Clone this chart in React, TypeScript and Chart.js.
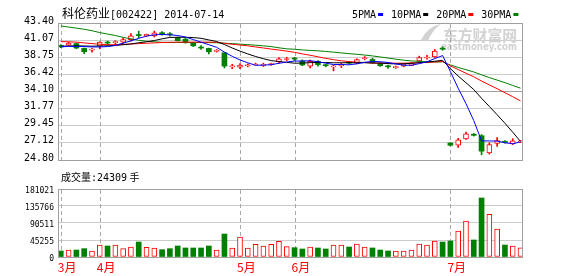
import React, { useEffect, useRef } from 'react';
import { Chart, registerables } from 'chart.js';

Chart.register(...registerables);

// ---- data (price in 元, volume in 手) ----
const openP = [40.35, 40.4, 40.6, 39.95, 39.7, 40.25, 40.72, 40.74, 40.8, 41.15, 41.75, 41.65, 41.65, 42.0, 41.85, 41.4, 41.2, 40.7, 40.1, 39.95, 39.55, 39.35, 37.45, 37.4, 37.6, 37.7, 37.65, 37.75, 38.1, 38.45, 38.55, 38.25, 37.55, 38.2, 37.65, 37.45, 37.6, 38.0, 37.95, 38.55, 38.45, 37.9, 37.5, 37.35, 37.55, 37.65, 38.25, 38.65, 38.8, 39.95, 27.1, 26.8, 27.65, 28.3, 28.1, 25.75, 27.05, 27.3, 27.0, 27.25];
const highP = [40.45, 40.8, 40.7, 40.0, 39.95, 40.85, 40.95, 41.0, 41.35, 41.95, 42.3, 41.9, 42.3, 42.25, 42.1, 41.5, 41.4, 40.8, 40.35, 40.0, 39.8, 39.4, 37.8, 37.9, 37.85, 37.95, 37.95, 37.95, 38.7, 38.75, 38.75, 38.4, 38.35, 38.3, 37.8, 37.7, 37.95, 38.15, 38.55, 38.85, 38.6, 38.0, 37.65, 37.55, 37.85, 38.05, 38.9, 39.0, 39.8, 40.15, 27.15, 27.75, 28.6, 28.4, 28.25, 27.15, 27.85, 27.45, 27.7, 27.45];
const lowP = [40.05, 40.3, 39.9, 39.25, 39.45, 39.9, 40.4, 40.45, 40.6, 40.95, 41.4, 41.55, 41.5, 41.75, 41.6, 40.95, 40.65, 40.2, 39.8, 39.2, 39.45, 37.3, 37.2, 37.2, 37.45, 37.65, 37.5, 37.65, 37.95, 38.3, 38.3, 37.6, 37.3, 37.55, 37.45, 36.9, 37.35, 37.8, 37.85, 38.4, 37.95, 37.5, 37.25, 37.25, 37.45, 37.6, 38.1, 38.5, 38.7, 39.7, 26.7, 26.5, 27.6, 28.05, 25.5, 25.6, 26.65, 27.1, 26.9, 27.15];
const closeP = [40.15, 40.65, 40.0, 39.5, 39.85, 40.8, 40.68, 40.8, 41.15, 41.65, 41.7, 41.85, 42.05, 41.95, 41.8, 41.0, 40.75, 40.3, 40.0, 39.5, 39.7, 37.55, 37.55, 37.7, 37.7, 37.8, 37.75, 37.85, 38.55, 38.55, 38.5, 37.7, 38.2, 37.75, 37.6, 37.55, 37.75, 37.95, 38.45, 38.65, 38.05, 37.6, 37.45, 37.45, 37.8, 38.0, 38.7, 38.75, 39.6, 39.85, 26.8, 27.55, 28.35, 28.15, 26.0, 26.9, 27.45, 27.2, 27.4, 27.35];

const ma5 = [40.17, 40.22, 40.22, 40.2, 40.15, 40.15, 40.2, 40.35, 40.67, 40.97, 41.32, 41.62, 41.8, 41.84, 41.8, 41.7, 41.5, 41.15, 40.8, 40.45, 40.1, 39.45, 38.88, 38.38, 38.0, 37.66, 37.68, 37.74, 37.93, 38.1, 38.24, 38.23, 38.28, 38.14, 37.95, 37.76, 37.77, 37.72, 37.86, 38.07, 38.17, 38.14, 38.04, 37.84, 37.67, 37.66, 37.88, 38.14, 38.57, 38.98, 36.8, 34.55, 32.45, 30.15, 27.4, 27.39, 27.37, 27.14, 27.0, 27.26];
const ma10 = [40.25, 40.28, 40.3, 40.28, 40.25, 40.28, 40.3, 40.35, 40.45, 40.55, 40.72, 40.85, 41.02, 41.25, 41.44, 41.46, 41.46, 41.42, 41.32, 41.1, 40.89, 40.48, 40.01, 39.58, 39.2, 38.85, 38.55, 38.3, 38.16, 38.06, 37.94, 37.96, 38.02, 38.04, 38.03, 38.0, 38.0, 38.01, 38.0, 38.01, 37.97, 37.96, 37.88, 37.85, 37.87, 37.92, 38.01, 38.09, 38.21, 38.33, 37.2, 36.2, 35.29, 34.36, 33.18, 32.07, 30.94, 29.79, 28.57, 27.32];
const ma20 = [40.88, 40.85, 40.8, 40.7, 40.6, 40.52, 40.45, 40.45, 40.5, 40.55, 40.6, 40.65, 40.7, 40.75, 40.78, 40.8, 40.8, 40.8, 40.8, 40.8, 40.78, 40.63, 40.51, 40.41, 40.3, 40.15, 40.01, 39.86, 39.73, 39.58, 39.42, 39.21, 39.02, 38.81, 38.6, 38.42, 38.27, 38.16, 38.08, 38.04, 37.95, 37.96, 37.95, 37.94, 37.95, 37.96, 38.01, 38.05, 38.1, 38.17, 37.58, 37.08, 36.58, 36.1, 35.52, 34.99, 34.48, 33.94, 33.39, 32.82];
const ma30 = [43.0, 42.85, 42.7, 42.55, 42.35, 42.1, 41.9, 41.7, 41.45, 41.25, 41.05, 40.92, 40.85, 40.78, 40.75, 40.75, 40.75, 40.75, 40.75, 40.74, 40.72, 40.66, 40.6, 40.53, 40.47, 40.38, 40.3, 40.2, 40.03, 39.89, 39.84, 39.74, 39.68, 39.62, 39.54, 39.44, 39.34, 39.24, 39.15, 39.05, 38.93, 38.79, 38.64, 38.49, 38.35, 38.25, 38.19, 38.13, 38.12, 38.13, 37.7, 37.37, 37.06, 36.75, 36.36, 35.99, 35.65, 35.3, 34.92, 34.55];

const volume = [16000, 18600, 18600, 22200, 16000, 31900, 29300, 31900, 22200, 26600, 39900, 25700, 24000, 19500, 22200, 29300, 24000, 24000, 24000, 29300, 18600, 61200, 24000, 53200, 24000, 33700, 29300, 33700, 41700, 27500, 24800, 21300, 26600, 24000, 21300, 31900, 31900, 26600, 34600, 26600, 24000, 18600, 16000, 16000, 16000, 18600, 34600, 31900, 42600, 39900, 42600, 69200, 95800, 45300, 157100, 113600, 74500, 31900, 29300, 24309];

const monthTickIndex = [0, 5, 23, 30, 50];
const monthTickLabels = ['3月', '4月', '5月', '6月', '7月'];
const priceTickValues = [24.8, 27.125, 29.45, 31.775, 34.1, 36.425, 38.75, 41.075, 43.4];
const priceTickLabels = ['24.80', '27.12', '29.45', '31.77', '34.10', '36.42', '38.75', '41.07', '43.40'];
const volumeTickValues = [0, 45255, 90511, 135766, 181021];
const volumeTickLabels = ['0', '45255', '90511', '135766', '181021'];

const stockName = '科伦药业';
const stockCodeDate = '[002422] 2014-07-14';
const legendLabels = ['5PMA', '10PMA', '20PMA', '30PMA'];
const volumeCaption = '成交量';
const lastVolumeText = ':24309';
const volumeUnit = '手';
const watermarkCn = '东方财富网';
const watermarkEn = 'eastmoney.com';

// ---- styles ----
const RED = '#ff0000';
const GREEN = '#008000';
const MA_COLORS = ['#0000ff', '#000000', '#ff0000', '#008000'];
const FRAME = '#a0a0a0';
const GRID = '#cccccc';
const VGRID = '#a8a8a8';
const MONO = "'DejaVu Sans Mono'";
const CJK = "'Noto Sans CJK SC'";

const isUp = closeP.map((c, i) => c >= openP[i]);

const X_MIN = -0.36;
const X_MAX = 59.19;

function xScale(showLabels: boolean): any {
  return {
    type: 'linear',
    min: X_MIN,
    max: X_MAX,
    bounds: 'data',
    offset: false,
    afterBuildTicks: (s: any) => {
      s.ticks = monthTickIndex.map((v) => ({ value: v }));
    },
    afterFit: (s: any) => {
      s.height = showLabels ? 19 : 4;
    },
    ticks: {
      display: showLabels,
      autoSkip: false,
      maxRotation: 0,
      minRotation: 0,
      align: 'start',
      labelOffset: -3,
      padding: 3,
      color: RED,
      font: { family: CJK, size: 12 },
      callback: (v: number) => {
        const k = monthTickIndex.indexOf(v);
        return k >= 0 ? monthTickLabels[k] : '';
      },
    },
    grid: { display: false, drawTicks: false, offset: false },
    border: { display: false },
  };
}

// month separators (dashed) + chart-area frame, placed through the chart's x scale
function framePlugin(id: string): any {
  return {
    id,
    beforeDatasetsDraw(chart: any) {
      const { ctx, chartArea } = chart;
      const xs = chart.scales.x;
      ctx.save();
      ctx.strokeStyle = VGRID;
      ctx.lineWidth = 1;
      ctx.setLineDash([4, 3]);
      for (const v of monthTickIndex) {
        const px = Math.round(xs.getPixelForValue(v)) + 0.5;
        ctx.beginPath();
        ctx.moveTo(px, chartArea.top + 1);
        ctx.lineTo(px, chartArea.bottom);
        ctx.stroke();
      }
      ctx.restore();
    },
    afterDraw(chart: any) {
      const { ctx, chartArea } = chart;
      const { left, top, right, bottom } = chartArea;
      ctx.save();
      ctx.strokeStyle = FRAME;
      ctx.lineWidth = 1;
      ctx.setLineDash([]);
      ctx.strokeRect(Math.round(left) + 0.5, Math.round(top) + 0.5, Math.round(right - left), Math.round(bottom - top));
      ctx.restore();
    },
  };
}

function fitText(ctx: CanvasRenderingContext2D, text: string, x: number, y: number, width: number) {
  const w = ctx.measureText(text).width || 1;
  ctx.save();
  ctx.translate(x, y);
  ctx.scale(width / w, 1);
  ctx.fillText(text, 0, 0);
  ctx.restore();
}

const priceTextPlugin = {
  id: 'priceText',
  beforeDatasetsDraw(chart: any) {
    const { ctx } = chart;
    ctx.save();
    ctx.fillStyle = '#d2d2d2';
    ctx.textBaseline = 'alphabetic';
    ctx.font = `bold 15px ${CJK}`;
    fitText(ctx, watermarkCn, 443, 41, 74);
    ctx.font = "bold 10px 'DejaVu Sans'";
    fitText(ctx, watermarkEn, 441, 49.5, 76);
    ctx.beginPath();
    ctx.moveTo(421, 40);
    ctx.quadraticCurveTo(428, 26, 441, 24);
    ctx.quadraticCurveTo(432, 30, 428, 41);
    ctx.closePath();
    ctx.fill();
    ctx.restore();
  },
  afterDraw(chart: any) {
    const { ctx } = chart;
    ctx.save();
    ctx.textBaseline = 'alphabetic';
    ctx.textAlign = 'left';
    ctx.fillStyle = '#000';
    ctx.font = `12px ${CJK}`;
    ctx.fillText(stockName, 62, 18);
    const w = ctx.measureText(stockName).width;
    ctx.font = `10px ${MONO}`;
    ctx.fillText(stockCodeDate, 62 + w, 18);
    let x = 352;
    legendLabels.forEach((lab, k) => {
      ctx.fillStyle = '#000';
      ctx.fillText(lab, x, 18);
      x += ctx.measureText(lab).width + 2;
      ctx.fillStyle = MA_COLORS[k];
      ctx.fillRect(x, 13, 5, 3);
      x += 5 + 8;
    });
    ctx.restore();
  },
};

const volumeTextPlugin = {
  id: 'volumeText',
  afterDraw(chart: any) {
    const { ctx } = chart;
    ctx.save();
    ctx.textBaseline = 'alphabetic';
    ctx.fillStyle = '#000';
    ctx.font = `10px ${CJK}`;
    ctx.fillText(volumeCaption, 61, 11);
    const w = ctx.measureText(volumeCaption).width;
    ctx.font = `10px ${MONO}`;
    ctx.fillText(lastVolumeText, 61 + w, 11);
    const w2 = ctx.measureText(lastVolumeText).width;
    ctx.font = `10px ${CJK}`;
    ctx.fillText(volumeUnit, 61 + w + w2 + 2.5, 11);
    ctx.restore();
  },
};

export default function App() {
  const priceRef = useRef<HTMLCanvasElement | null>(null);
  const volRef = useRef<HTMLCanvasElement | null>(null);

  useEffect(() => {
    if (!priceRef.current || !volRef.current) return;

    const maDatasets = [ma5, ma10, ma20, ma30].map((arr, k) => ({
      type: 'line' as const,
      label: legendLabels[k],
      data: arr.map((v, i) => ({ x: i, y: v })),
      borderColor: MA_COLORS[k],
      borderWidth: 1,
      pointRadius: 0,
      tension: 0,
      fill: false,
      order: 0,
    }));

    const priceChart = new Chart(priceRef.current, {
      type: 'bar',
      data: {
        datasets: [
          ...maDatasets,
          {
            type: 'bar',
            label: 'body',
            data: openP.map((o, i) => ({ x: i, y: [o, closeP[i]] })),
            backgroundColor: isUp.map((u) => (u ? '#ffffff' : GREEN)),
            borderColor: isUp.map((u) => (u ? RED : GREEN)),
            borderWidth: isUp.map((u) => (u ? 1 : 0)),
            borderSkipped: false,
            barThickness: 5,
            minBarLength: 1,
            grouped: false,
            order: 1,
          },
          {
            type: 'bar',
            label: 'wick',
            data: lowP.map((l, i) => ({ x: i, y: [l, highP[i]] })),
            backgroundColor: isUp.map((u) => (u ? RED : GREEN)),
            borderWidth: 0,
            barThickness: 1,
            grouped: false,
            order: 2,
          },
        ] as any,
      },
      options: {
        responsive: false,
        animation: false,
        events: [],
        layout: { padding: { left: 0, right: 56, top: 23, bottom: 0 } },
        plugins: { legend: { display: false }, tooltip: { enabled: false }, title: { display: false } },
        scales: {
          x: xScale(false),
          y: {
            type: 'linear',
            min: 24.8,
            max: 43.4,
            bounds: 'data',
            beginAtZero: false,
            afterBuildTicks: (s: any) => {
              s.ticks = priceTickValues.map((v) => ({ value: v }));
            },
            afterFit: (s: any) => {
              s.width = 58;
            },
            ticks: {
              padding: 4,
              labelOffset: -2,
              color: '#000',
              font: { family: MONO, size: 10 },
              callback: (_v: number, i: number) => priceTickLabels[i],
            },
            grid: {
              drawTicks: false,
              lineWidth: 1,
              color: (c: any) => (c.tick && Math.abs(c.tick.value - 34.1) < 1e-6 ? FRAME : GRID),
            },
            border: { display: false },
          },
        } as any,
      },
      plugins: [priceTextPlugin, framePlugin('priceFrame')],
    });

    const volChart = new Chart(volRef.current, {
      type: 'bar',
      data: {
        datasets: [
          {
            label: 'volume',
            data: volume.map((v, i) => ({ x: i, y: v })),
            backgroundColor: isUp.map((u) => (u ? '#ffffff' : GREEN)),
            borderColor: isUp.map((u) => (u ? RED : GREEN)),
            borderWidth: isUp.map((u) => (u ? 1 : 0)),
            borderSkipped: false,
            barThickness: 5,
            grouped: false,
          },
        ] as any,
      },
      options: {
        responsive: false,
        animation: false,
        events: [],
        layout: { padding: { left: 0, right: 56, top: 19, bottom: 0 } },
        plugins: { legend: { display: false }, tooltip: { enabled: false } },
        scales: {
          x: xScale(true),
          y: {
            type: 'linear',
            min: 0,
            max: 181021,
            bounds: 'data',
            afterBuildTicks: (s: any) => {
              s.ticks = volumeTickValues.map((v) => ({ value: v }));
            },
            afterFit: (s: any) => {
              s.width = 58;
            },
            ticks: {
              padding: 4,
              labelOffset: 2,
              color: '#000',
              font: { family: MONO, size: 8 },
              callback: (_v: number, i: number) => volumeTickLabels[i],
            },
            grid: { drawTicks: false, lineWidth: 1, color: GRID },
            border: { display: false },
          },
        } as any,
      },
      plugins: [volumeTextPlugin, framePlugin('volFrame')],
    });

    return () => {
      priceChart.destroy();
      volChart.destroy();
    };
  }, []);

  return (
    <div style={{ position: 'absolute', left: 0, top: 0, width: 578, height: 276, background: '#ffffff' }}>
      <canvas ref={priceRef} width={578} height={170} style={{ position: 'absolute', left: 0, top: 0, width: 578, height: 170 }} />
      <canvas ref={volRef} width={578} height={106} style={{ position: 'absolute', left: 0, top: 170, width: 578, height: 106 }} />
    </div>
  );
}
